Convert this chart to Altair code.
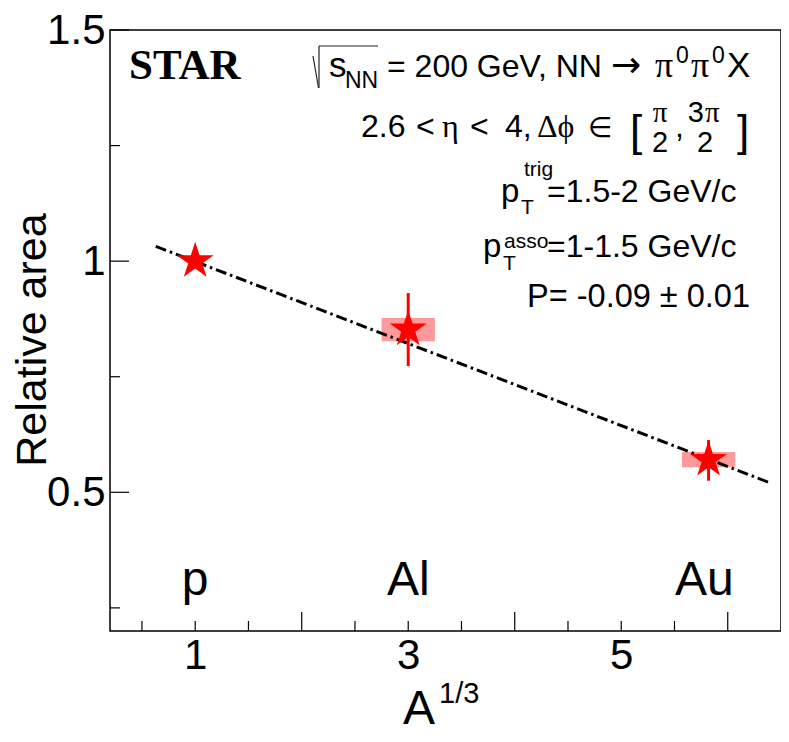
import altair as alt
import pandas as pd

# ---------------- data ----------------
nuclei = ["p", "Al", "Au"]
a13 = [1.0, 3.0, 5.82]            # A^(1/3)
rel_area = [1.0, 0.852, 0.570]    # relative area

err_x = [3.0, 5.82]
err_lo = [0.773, 0.525]
err_hi = [0.931, 0.613]

sys_x_lo = [2.75, 5.57]
sys_x_hi = [3.25, 6.07]
sys_y_lo = [0.827, 0.554]
sys_y_hi = [0.877, 0.587]

fit_x = [0.63, 6.38]
fit_y = [1.032, 0.522]

label_x = [1.0, 3.0, 5.78]

x_tick_labels = [1, 3, 5]
y_tick_labels = [0.5, 1.0, 1.5]
x_minor = [0.5, 1, 1.5, 2.5, 3, 3.5, 4.5, 5, 5.5]
x_major = [2, 4, 6]
y_minor = [0.25, 0.75, 1.25]
y_major = [0.5, 1.0, 1.5]

# ---------------- layout ----------------
W, H = 671, 601
OX, OY = 110, 30          # plot origin in page pixels
SANS = "Liberation Sans"
SERIF = "Liberation Serif"
RED = "#ff0000"

STAR = ("M0,-1L0.2245,-0.309L0.951,-0.309L0.3633,0.118L0.588,0.809L0,0.382"
        "L-0.588,0.809L-0.3633,0.118L-0.951,-0.309L-0.2245,-0.309Z")

xs = alt.Scale(domain=[0.2, 6.5], nice=False, zero=False)
ys = alt.Scale(domain=[0.2, 1.5], nice=False, zero=False)

xaxis = alt.Axis(values=x_tick_labels, title=None, ticks=False, domain=False, grid=False,
                 labelFontSize=42, labelFont=SANS, labelColor="black", labelPadding=4,
                 labelFlush=False, format="~g")
yaxis = alt.Axis(values=y_tick_labels, title=None, ticks=False, domain=False, grid=False,
                 labelFontSize=42, labelFont=SANS, labelColor="black", labelPadding=5,
                 labelFlush=False, format="~g")

def X(f):
    return alt.X(f, scale=xs, axis=xaxis)

def Y(f):
    return alt.Y(f, scale=ys, axis=yaxis)

df = pd.DataFrame({"nucleus": nuclei, "a13": a13, "area": rel_area})
df_err = pd.DataFrame({"a13": err_x, "lo": err_lo, "hi": err_hi})
df_sys = pd.DataFrame({"x1": sys_x_lo, "x2": sys_x_hi, "y1": sys_y_lo, "y2": sys_y_hi})
df_fit = pd.DataFrame({"a13": fit_x, "area": fit_y})
df_lab = pd.DataFrame({"name": nuclei, "a13": label_x})
one = pd.DataFrame({"d": [0]})

sys_boxes = alt.Chart(df_sys).mark_rect(color="#ff9a9a", opacity=1).encode(
    x=X("x1:Q"), x2="x2:Q", y=Y("y1:Q"), y2="y2:Q")

fit = alt.Chart(df_fit).mark_line(color="black", strokeWidth=3,
                                  strokeDash=[11, 4, 2.5, 4]).encode(
    x=X("a13:Q"), y=Y("area:Q"))

errs = alt.Chart(df_err).mark_rule(color=RED, strokeWidth=3).encode(
    x=X("a13:Q"), y=Y("lo:Q"), y2="hi:Q")

pts = alt.Chart(df).mark_point(shape=STAR, filled=True, color=RED, size=1500,
                               opacity=1, strokeWidth=0).encode(
    x=X("a13:Q"), y=Y("area:Q"))

labels = alt.Chart(df_lab).mark_text(fontSize=48, font=SANS, align="center",
                                     baseline="alphabetic", color="black").encode(
    x=X("a13:Q"), y=alt.value(595 - OY), text="name:N")

def xticks(vals, length):
    d = pd.DataFrame({"a13": vals})
    return alt.Chart(d).mark_rule(color="black", strokeWidth=1.2).encode(
        x=X("a13:Q"), y=alt.value(H), y2=alt.value(H - length))

def yticks(vals, length):
    d = pd.DataFrame({"area": vals})
    return alt.Chart(d).mark_rule(color="black", strokeWidth=1.2).encode(
        y=Y("area:Q"), x=alt.value(0), x2=alt.value(length))

def txt(s, x, y, size, align="left", font=SANS, weight="normal", angle=0, baseline="alphabetic"):
    kw = dict(text=s, align=align, baseline=baseline, fontSize=size, font=font,
              fontWeight=weight, color="black")
    if angle:
        kw["angle"] = angle
    return alt.Chart(one).mark_text(**kw).encode(x=alt.value(x - OX), y=alt.value(y - OY))

def seg(x1, y1, x2, y2):
    return alt.Chart(one).mark_rule(color="#222222", strokeWidth=1.2).encode(
        x=alt.value(x1 - OX), y=alt.value(y1 - OY), x2=alt.value(x2 - OX), y2=alt.value(y2 - OY))

texts = [
    txt("STAR", 129, 79, 43, font=SERIF, weight="bold"),
    # line 1
    seg(313, 56, 318.5, 88), seg(319, 88, 319, 46), seg(319, 46, 378, 46),
    txt("s", 329, 77, 35),
    txt("NN", 345, 88, 23),
    txt("= 200 GeV, NN", 387, 77, 32),
    txt("\u2192", 611, 77, 36, font="DejaVu Sans"),
    txt("\u03c0", 655, 77, 36, font=SERIF),
    txt("0", 676, 63, 23),
    txt("\u03c0", 691, 77, 36, font=SERIF),
    txt("0", 712, 63, 23),
    txt("X", 727, 77, 35),
    # line 2
    txt("2.6", 361, 137, 32),
    txt("<", 416, 137, 32),
    txt("\u03b7", 442, 137, 32, font=SERIF),
    txt("<", 470, 137, 32),
    txt("4,", 505, 137, 32),
    txt("\u0394\u03d5", 537, 137, 32, font=SERIF),
    txt("\u2208", 588, 137, 28, font="DejaVu Sans"),
    txt("[", 630, 146, 44),
    txt("\u03c0", 660, 122, 29, align="center", font=SERIF),
    txt("2", 660, 152, 29, align="center"),
    txt(",", 675, 137, 32),
    txt("3", 704, 122, 29, align="right"),
    txt("\u03c0", 705, 122, 29, font=SERIF),
    txt("2", 705, 152, 29, align="center"),
    txt("]", 737, 146, 44),
    # line 3
    txt("p", 501, 202, 33),
    txt("trig", 524, 176, 21),
    txt("T", 521, 214, 21),
    txt("=1.5-2 GeV/c", 547, 202, 32),
    # line 4
    txt("p", 483, 257, 33),
    txt("asso", 504, 248, 21),
    txt("T", 503, 270, 21),
    txt("=1-1.5 GeV/c", 547, 257, 32),
    # line 5
    txt("P= -0.09 \u00b1 0.01", 750, 307, 32.5, align="right"),
    # axis titles
    txt("Relative area", 46, 340, 43, align="center", angle=270),
    txt("A", 403, 724, 48),
    txt("1/3", 439, 703, 29),
]

chart = alt.layer(
    sys_boxes, fit, errs, pts, labels,
    xticks(x_minor, 10), xticks(x_major, 19),
    yticks(y_minor, 10), yticks(y_major, 19),
    *texts
).properties(
    width=W, height=H,
    autosize=alt.AutoSizeParams(type="none"),
    padding={"left": OX - 8, "top": OY - 8, "right": 0, "bottom": 96},
    background="white",
).configure_view(stroke="black", strokeWidth=1.5)

chart.save("out.html", embed_options={"renderer": "svg", "actions": False})
